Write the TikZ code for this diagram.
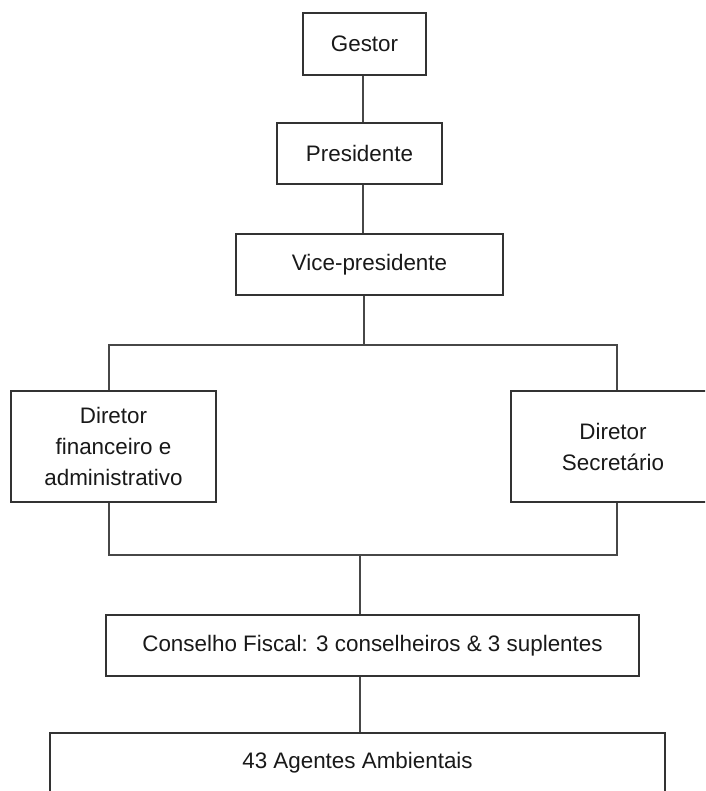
\documentclass[tikz,border=0pt]{standalone}
\usepackage{fontspec}
\setmainfont{Liberation Sans}
\begin{document}
\begin{tikzpicture}[x=1pt,y=-1pt,
  box/.style={draw=black!80, line width=1.8pt, rectangle, inner sep=0pt, align=center,
    font=\fontsize{22.4}{31}\selectfont, text=black!90},
  conn/.style={draw=black!72, line width=1.4pt}]
\fill[white] (0,0) rectangle (705,791);
\clip (0,0) rectangle (705,791);
\useasboundingbox (0,0) rectangle (705,791);

\node[box, minimum width=123, minimum height=62] (gestor) at (364.5,44) {Gestor};
\node[box, minimum width=165, minimum height=61] (pres) at (359.5,153.5) {Presidente};
\node[box, minimum width=267, minimum height=61] (vp) at (369.5,264.5) {Vice-presidente};
\node[box, minimum width=205, minimum height=111] (dfin) at (113.5,446.5) {Diretor\\financeiro e\\administrativo};
\node[box, minimum width=204, minimum height=111] (dsec) at (613,446.5) {Diretor\\Secretário};
\node[box, minimum width=533, minimum height=61] (cons) at (372.5,645.5) {Conselho Fiscal: 3 conselheiros \& 3 suplentes};
\node[box, minimum width=615, minimum height=60] (agt) at (357.5,763) {43 Agentes Ambientais};

\coordinate (spine) at (363,0);
\coordinate (busT) at (364,345);
\coordinate (busB) at (360,555);
\coordinate (finx) at (109,0);
\coordinate (secx) at (617,0);

\draw[conn] (gestor.south -| spine) -- (pres.north -| spine);
\draw[conn] (pres.south -| spine) -- (vp.north -| spine);
\draw[conn] (vp.south -| busT) -- (busT);
\draw[conn] (dfin.north -| finx) -- (finx |- busT) -- (secx |- busT) -- (dsec.north -| secx);
\draw[conn] (dfin.south -| finx) -- (finx |- busB) -- (secx |- busB) -- (dsec.south -| secx);
\draw[conn] (busB) -- (cons.north -| busB);
\draw[conn] (cons.south -| busB) -- (agt.north -| busB);
\end{tikzpicture}
\end{document}
